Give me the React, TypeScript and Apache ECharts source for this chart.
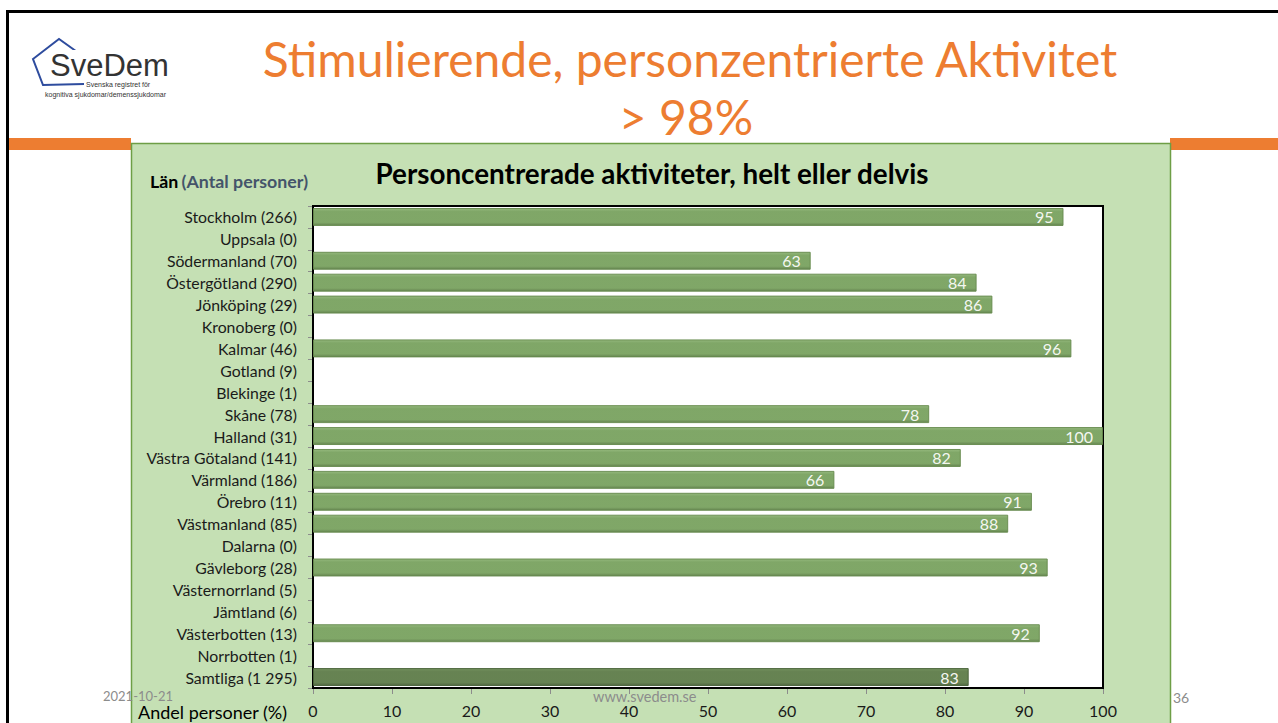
import React, { useEffect, useRef } from "react";
import * as echarts from "echarts";

const regions = [
  "Stockholm (266)",
  "Uppsala (0)",
  "Södermanland (70)",
  "Östergötland (290)",
  "Jönköping (29)",
  "Kronoberg (0)",
  "Kalmar (46)",
  "Gotland (9)",
  "Blekinge (1)",
  "Skåne (78)",
  "Halland (31)",
  "Västra Götaland (141)",
  "Värmland (186)",
  "Örebro (11)",
  "Västmanland (85)",
  "Dalarna (0)",
  "Gävleborg (28)",
  "Västernorrland (5)",
  "Jämtland (6)",
  "Västerbotten (13)",
  "Norrbotten (1)",
  "Samtliga (1 295)",
];
const shares: (number | null)[] = [
  95, null, 63, 84, 86, null, 96, null, null, 78, 100, 82, 66, 91, 88, null, 93, null, null, 92, null, 83,
];
const totalLabel = "Samtliga (1 295)";
const xMin = 0;
const xMax = 100;
const xStep = 10;

const slideTitle1 = "Stimulierende, personzentrierte Aktivitet";
const slideTitle2 = "> 98%";
const chartTitle = "Personcentrerade aktiviteter, helt eller delvis";
const axisHeadLan = "Län";
const axisHeadAntal = "(Antal personer)";
const xAxisTitle = "Andel personer (%)";
const footDate = "2021-10-21";
const footUrl = "www.svedem.se";
const footPage = "36";

const FONT = "Lato, 'Noto Sans', sans-serif";

export default function App() {
  const ref = useRef<HTMLDivElement>(null);
  useEffect(() => {
    if (!ref.current) return;
    const chart = echarts.init(ref.current, undefined, { renderer: "svg" });
    const barGrad = (top: string, mid: string, bot: string) =>
      new echarts.graphic.LinearGradient(0, 0, 0, 1, [
        { offset: 0, color: top },
        { offset: 0.18, color: mid },
        { offset: 0.82, color: mid },
        { offset: 1, color: bot },
      ]);
    const data = shares.map((v, i) => {
      if (regions[i] === totalLabel) {
        return {
          value: v,
          itemStyle: { color: barGrad("#6c8b55", "#5e7c49", "#475f37"), borderColor: "#4a633a", opacity: 0.95 },
        };
      }
      return v;
    });
    chart.setOption({
      animation: false,
      textStyle: { fontFamily: FONT },
      grid: {
        left: 313,
        top: 206,
        width: 790,
        height: 482,
        show: true,
        backgroundColor: "#ffffff",
        borderColor: "#000000",
        borderWidth: 2,
        z: 1,
      },
      xAxis: {
        type: "value",
        min: xMin,
        max: xMax,
        interval: xStep,
        axisLine: { show: false },
        axisTick: { show: true, length: 6, lineStyle: { color: "#8c8c8c" } },
        axisLabel: { color: "#1a1a1a", fontSize: 16, margin: 14, fontFamily: FONT },
        splitLine: { show: true, lineStyle: { color: "#d4d4d4", width: 1 } },
      },
      yAxis: {
        type: "category",
        inverse: true,
        data: regions,
        axisLine: { show: true, lineStyle: { color: "#404040", width: 2 } },
        axisTick: { show: true, length: 5, lineStyle: { color: "#8c8c8c" } },
        axisLabel: { color: "#1a1a1a", fontSize: 15.8, margin: 16, fontFamily: FONT },
        splitLine: { show: false },
      },
      series: [
        {
          type: "bar",
          data,
          barCategoryGap: "18%",
          itemStyle: {
            color: barGrad("#8cb373", "#76a05c", "#5a7c44"),
            borderColor: "#668a4e",
            borderWidth: 1,
            opacity: 0.93,
          },
          label: {
            show: true,
            position: "insideRight",
            distance: 10,
            color: "#ffffff",
            fontSize: 16,
            fontFamily: FONT,
          },
        },
      ],
      graphic: [
        // slide frame
        { type: "rect", z: -100, shape: { x: 6, y: 10, width: 1272, height: 3 }, style: { fill: "#000" } },
        { type: "rect", z: -100, shape: { x: 6, y: 10, width: 3, height: 713 }, style: { fill: "#000" } },
        // orange bars
        { type: "rect", z: -100, shape: { x: 9, y: 138, width: 122, height: 12 }, style: { fill: "#ED7D31" } },
        { type: "rect", z: -100, shape: { x: 1170, y: 138, width: 108, height: 12 }, style: { fill: "#ED7D31" } },
        // green chart panel
        {
          type: "rect",
          z: -90,
          shape: { x: 131.5, y: 143.5, width: 1039, height: 590 },
          style: { fill: "#C5E0B4", stroke: "#6E9E46", lineWidth: 1.5 },
        },
        // logo
        {
          type: "polyline",
          z: 10,
          shape: { points: [[80, 54], [59, 39], [33, 59], [43, 85], [84, 84]] },
          style: { stroke: "#2E4C9E", lineWidth: 2, fill: "none" },
        },
        {
          type: "text",
          z: 11,
          x: 50,
          y: 81,
          style: {
            text: "SveDem",
            fill: "#333333",
            font: "31px 'Liberation Sans', Arial, sans-serif",
            textVerticalAlign: "bottom",
            backgroundColor: "#ffffff",
          },
        },
        {
          type: "text",
          z: 11,
          x: 86,
          y: 84,
          style: {
            text: "Svenska registret för",
            fill: "#333333",
            font: "7px 'Liberation Sans', Arial, sans-serif",
            textVerticalAlign: "middle",
            backgroundColor: "#ffffff",
          },
        },
        {
          type: "text",
          z: 11,
          x: 45,
          y: 94,
          style: {
            text: "kognitiva sjukdomar/demenssjukdomar",
            fill: "#333333",
            font: "7px 'Liberation Sans', Arial, sans-serif",
            textVerticalAlign: "middle",
          },
        },
        // slide titles
        {
          type: "text",
          z: 20,
          x: 690,
          y: 58,
          style: {
            text: slideTitle1,
            fill: "#ED7D31",
            font: `48px ${FONT}`,
            textAlign: "center",
            textVerticalAlign: "middle",
          },
        },
        {
          type: "text",
          z: 20,
          x: 686,
          y: 116,
          style: {
            text: slideTitle2,
            fill: "#ED7D31",
            font: `48px ${FONT}`,
            textAlign: "center",
            textVerticalAlign: "middle",
          },
        },
        // chart title
        {
          type: "text",
          z: 20,
          x: 652,
          y: 173,
          style: {
            text: chartTitle,
            fill: "#000000",
            font: `bold 27.8px ${FONT}`,
            textAlign: "center",
            textVerticalAlign: "middle",
          },
        },
        {
          type: "text",
          z: 20,
          x: 150,
          y: 181,
          style: {
            text: `{a|${axisHeadLan}} {b|${axisHeadAntal}}`,
            textVerticalAlign: "middle",
            rich: {
              a: { fill: "#000000", fontWeight: "bold", fontSize: 17.8, fontFamily: FONT },
              b: { fill: "#44546A", fontWeight: "bold", fontSize: 17.8, fontFamily: FONT },
            },
          },
        },
        {
          type: "text",
          z: 20,
          x: 138,
          y: 712,
          style: {
            text: xAxisTitle,
            fill: "#000000",
            font: `18px ${FONT}`,
            textVerticalAlign: "middle",
          },
        },
        // footer
        {
          type: "text",
          z: 30,
          x: 103,
          y: 696,
          style: { text: footDate, fill: "#8C8C8C", font: `13px ${FONT}`, textVerticalAlign: "middle" },
        },
        {
          type: "text",
          z: 30,
          x: 593,
          y: 696,
          style: { text: footUrl, fill: "#8C8C8C", font: `14.5px ${FONT}`, textVerticalAlign: "middle" },
        },
        {
          type: "text",
          z: 30,
          x: 1173,
          y: 697,
          style: { text: footPage, fill: "#8C8C8C", font: `14px ${FONT}`, textVerticalAlign: "middle" },
        },
      ],
    });
    return () => chart.dispose();
  }, []);
  return (
    <div
      ref={ref}
      style={{ position: "fixed", left: 0, top: 0, width: 1278, height: 723, background: "#ffffff" }}
    />
  );
}
